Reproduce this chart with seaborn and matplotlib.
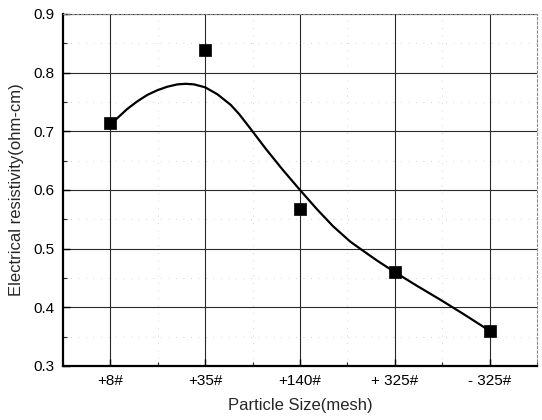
import matplotlib
matplotlib.use("Agg")
import matplotlib.pyplot as plt
import seaborn as sns
import pandas as pd
import numpy as np
from matplotlib.ticker import MultipleLocator

sns.set_theme(style="white")
plt.rcParams['font.family'] = ['Liberation Sans', 'DejaVu Sans']

# Data
categories = ["+8#", "+35#", "+140#", "+ 325#", "- 325#"]
resistivity = [0.714, 0.838, 0.567, 0.460, 0.360]

# Smooth fitted curve (x in category index units)
curve_x = [0.0, 0.05, 0.177, 0.283, 0.389, 0.495, 0.60, 0.706, 0.795, 0.883,
           1.0, 1.13, 1.27, 1.36, 1.48, 1.64, 1.82, 2.0, 2.18, 2.35, 2.53,
           2.66, 2.81, 3.0, 3.23, 3.48, 3.73, 4.0]
curve_y = [0.714, 0.719, 0.738, 0.751, 0.762, 0.770, 0.776, 0.780, 0.781, 0.780,
           0.775, 0.763, 0.745, 0.729, 0.704, 0.670, 0.634, 0.600, 0.567, 0.538,
           0.512, 0.497, 0.480, 0.460, 0.437, 0.413, 0.388, 0.360]

pts = pd.DataFrame({"x": np.arange(len(categories)), "y": resistivity})
crv = pd.DataFrame({"x": curve_x, "y": curve_y})

fig = plt.figure(figsize=(5.42, 4.2), dpi=100)
ax = fig.add_axes([0.1162, 0.1286, 0.8746, 0.8381])

sns.lineplot(data=crv, x="x", y="y", ax=ax, color="black", lw=1.6, sort=True,
             zorder=3)
ax.lines[-1].set_solid_joinstyle("round")
sns.scatterplot(data=pts, x="x", y="y", ax=ax, marker="s", s=80, color="black",
                edgecolor="black", linewidth=0.5, zorder=4)

ax.set_xlim(-0.5, 4.5)
ax.set_ylim(0.3, 0.9)
ax.set_xticks(range(len(categories)))
ax.set_xticklabels(categories)
ax.set_yticks([0.3, 0.4, 0.5, 0.6, 0.7, 0.8, 0.9])
ax.set_yticklabels(["0.3", "0.4", "0.5", "0.6", "0.7", "0.8", "0.9"])
ax.xaxis.set_minor_locator(MultipleLocator(0.5))
ax.yaxis.set_minor_locator(MultipleLocator(0.05))

ax.grid(True, which="major", color="#2a2a2a", lw=0.8, ls="-")
ax.grid(True, which="minor", color="#c4c4c4", lw=0.6, ls=(0, (1, 8)))

ax.tick_params(axis="both", which="major", direction="in", length=5, width=1,
               labelsize=11, colors="black", bottom=True, left=True, pad=6)
ax.tick_params(axis="both", which="minor", direction="in", length=3, width=0.8,
               bottom=True, left=True)

for s in ["left", "bottom"]:
    ax.spines[s].set_color("black")
    ax.spines[s].set_linewidth(1.6)
for s in ["top", "right"]:
    ax.spines[s].set_color("#888888")
    ax.spines[s].set_linewidth(0.8)
    ax.spines[s].set_linestyle((0, (2, 2)))

ax.set_xlabel("Particle Size(mesh)", fontsize=12, labelpad=7)
ax.set_ylabel("Electrical resistivity(ohm-cm)", fontsize=12, labelpad=7)

fig.savefig("out.png", dpi=100)
